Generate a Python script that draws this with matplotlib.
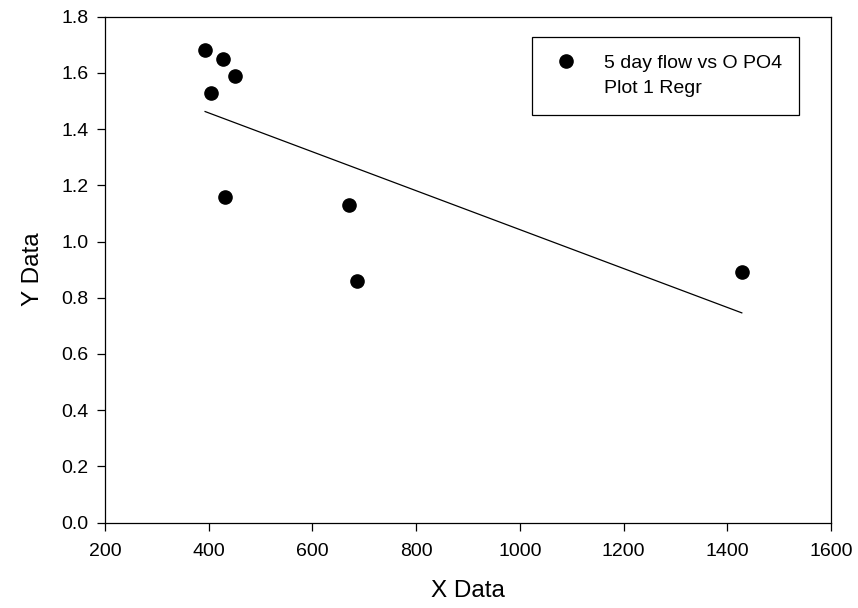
import numpy as np
import matplotlib.pyplot as plt
from matplotlib.lines import Line2D

plt.rcParams['font.family'] = ['Liberation Sans', 'DejaVu Sans']

# 5 day flow against ortho-phosphate
flow = [393, 427, 451, 405, 432, 670, 686, 1428]
opo4 = [1.68, 1.65, 1.59, 1.53, 1.16, 1.13, 0.86, 0.89]

x = np.array(flow, dtype=float)
y = np.array(opo4)

# linear regression over the range of the data
slope, intercept = np.polyfit(x, y, 1)
xr = np.array([x.min(), x.max()])
yr = slope * xr + intercept

fig = plt.figure(figsize=(8.58, 6.08), dpi=100)
ax = fig.add_axes([105 / 858, 1 - 522.5 / 608, 726 / 858, 505.8 / 608])

pts, = ax.plot(x, y, 'o', color='black', markersize=9.5, linestyle='none',
               label='5 day flow vs O PO4')
ax.plot(xr, yr, color='black', linewidth=0.9)

ax.set_xlim(200, 1600)
ax.set_ylim(0, 1.8)
ax.set_xticks(np.arange(200, 1601, 200))
ax.set_yticks(np.arange(0, 1.81, 0.2))
ax.set_yticklabels(['%.1f' % v for v in np.arange(0, 1.81, 0.2)])

ax.tick_params(direction='out', length=6, width=0.9, labelsize=14, pad=6)
ax.tick_params(axis='x', pad=9)
for s in ax.spines.values():
    s.set_linewidth(0.9)

ax.set_xlabel('X Data', fontsize=17.5, labelpad=14)
ax.set_ylabel('Y Data', fontsize=17.5, labelpad=12)

regr = Line2D([], [], color='none', label='Plot 1 Regr')
leg = ax.legend(handles=[pts, regr], loc='upper left',
                bbox_to_anchor=(531.7 / 858, 1 - 37.3 / 608),
                bbox_transform=fig.transFigure, fontsize=14,
                fancybox=False, framealpha=1, edgecolor='black',
                borderpad=0.88, handlelength=1.75, handletextpad=1.1,
                labelspacing=0.4, borderaxespad=0)
leg.get_frame().set_linewidth(0.9)

fig.savefig('out.png', dpi=100)
